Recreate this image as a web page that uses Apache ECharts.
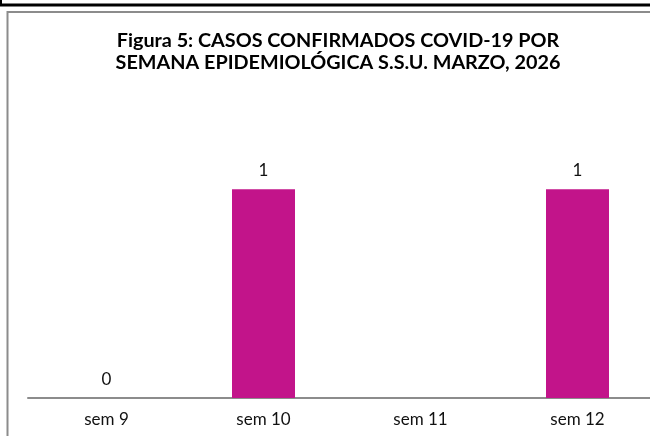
<!DOCTYPE html>
<html>
<head>
<meta charset="utf-8">
<script src="https://cdn.jsdelivr.net/npm/echarts@6/dist/echarts.min.js"></script>
<style>
  html, body { margin: 0; padding: 0; background: #fff; }
  #chart { width: 650px; height: 436px; }
</style>
</head>
<body>
<div id="chart"></div>
<script>
// datos de la figura
var categorias = ["sem 9", "sem 10", "sem 11", "sem 12"];
var casos = [0, 1, null, 1];
var titulo = "Figura 5: CASOS CONFIRMADOS COVID-19 POR\nSEMANA EPIDEMIOLÓGICA S.S.U. MARZO, 2026";

var chart = echarts.init(document.getElementById("chart"));
var option = {
  animation: false,
  backgroundColor: "#fff",
  title: {
    text: titulo,
    left: 333,
    top: 25,
    textAlign: "center",
    textStyle: {
      fontFamily: "Lato",
      fontWeight: "bold",
      fontSize: 19.8,
      lineHeight: 22,
      color: "#000"
    }
  },
  // marco del grafico
  graphic: [
    { type: "line", shape: { x1: 0, y1: 5, x2: 650, y2: 5 }, style: { stroke: "#000", lineWidth: 3 }, silent: true },
    { type: "line", shape: { x1: 1, y1: 0, x2: 1, y2: 6 }, style: { stroke: "#000", lineWidth: 2 }, silent: true },
    { type: "polyline", shape: { points: [[7.5, 436], [7.5, 12], [650, 12]] }, style: { stroke: "#8c8c8c", lineWidth: 2, fill: null }, silent: true }
  ],
  // el area del grafico se sale por la derecha como en la imagen original
  grid: { left: 28, width: 628, top: 85, bottom: 38, outerBoundsMode: "none", containLabel: false },
  xAxis: {
    type: "category",
    data: categorias,
    axisLine: { lineStyle: { color: "#8c8c8c", width: 2 } },
    axisTick: { show: false },
    axisLabel: { color: "#111", fontFamily: "Lato", fontSize: 17, margin: 13 }
  },
  yAxis: {
    type: "value",
    min: 0,
    max: 1.5,
    show: false,
    splitLine: { show: false }
  },
  series: [{
    type: "bar",
    data: casos,
    barWidth: 63,
    itemStyle: { color: "#C2148A" },
    label: {
      show: true,
      position: "top",
      distance: 10,
      color: "#111",
      fontFamily: "Lato",
      fontSize: 17
    }
  }]
};
chart.setOption(option);
</script>
</body>
</html>
